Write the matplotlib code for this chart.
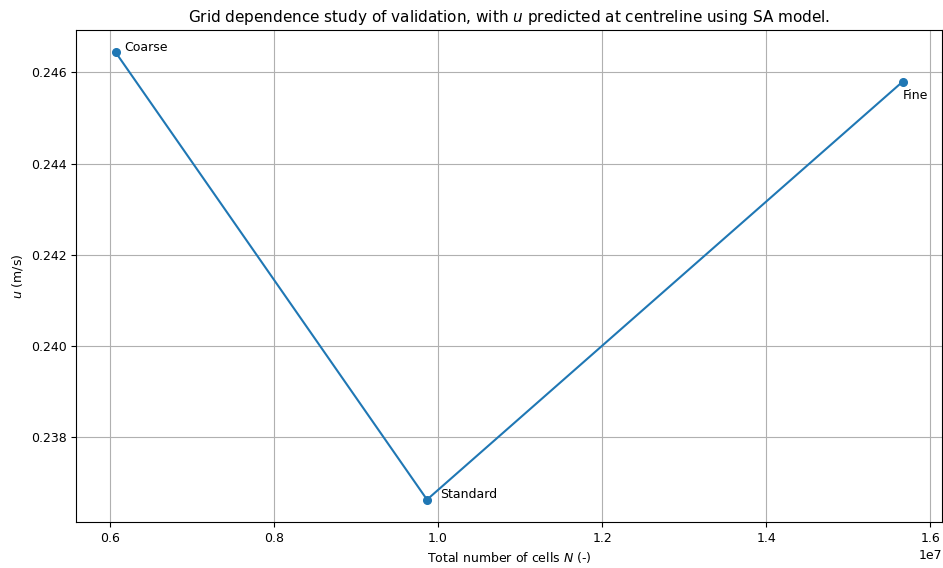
import matplotlib
matplotlib.use("Agg")
import matplotlib.pyplot as plt

# grid levels and centreline velocity from the SA runs
labels = ["Coarse", "Standard", "Fine"]
n_cells = [6.073e6, 9.866e6, 15.662e6]
u_centre = [0.24644, 0.23662, 0.24580]

plt.rcParams["font.size"] = 9.0

fig, ax = plt.subplots(figsize=(9.43, 5.68), dpi=100)
ax.plot(n_cells, u_centre, "o-", color="#1f77b4", lw=1.5, ms=5.5)

offsets = {"Coarse": (6.3, 3.6), "Standard": (9.4, 4.0), "Fine": (0, -9.8)}
for lab, x, y in zip(labels, n_cells, u_centre):
    ax.annotate(lab, (x, y), textcoords="offset points", xytext=offsets[lab],
                ha="left", va="center", fontsize=9.0)

ax.set_xticks([0.6e7, 0.8e7, 1.0e7, 1.2e7, 1.4e7, 1.6e7])
ax.set_yticks([0.238, 0.240, 0.242, 0.244, 0.246])
ax.grid(True)
ax.set_xlabel("Total number of cells $N$ (-)")
ax.set_ylabel("$u$ (m/s)")
ax.set_title("Grid dependence study of validation, with $u$ predicted at centreline using SA model.",
             fontsize=11.0)

fig.subplots_adjust(left=0.081, right=0.999, top=0.947, bottom=0.081)
fig.savefig("out.png", dpi=100)
